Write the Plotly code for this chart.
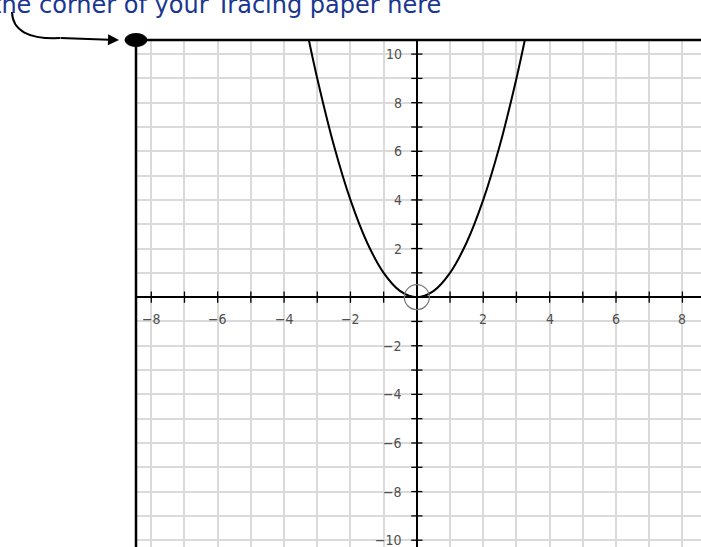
import plotly.graph_objects as go

# points of the parabola
curve_x = [-3.25, -3, -2.5, -2, -1.5, -1, -0.5, 0, 0.5, 1, 1.5, 2, 2.5, 3, 3.25]
curve_y = [10.56, 9, 6.25, 4, 2.25, 1, 0.25, 0, 0.25, 1, 2.25, 4, 6.25, 9, 10.56]

x_ticks = [-8, -7, -6, -5, -4, -3, -2, -1, 1, 2, 3, 4, 5, 6, 7, 8]
y_ticks = [-10, -9, -8, -7, -6, -5, -4, -3, -2, -1, 1, 2, 3, 4, 5, 6, 7, 8, 9, 10]
x_labels = [-8, -6, -4, -2, 2, 4, 6, 8]
y_labels = [-10, -8, -6, -4, -2, 2, 4, 6, 8, 10]

note = "the corner of your Tracing paper here"

x_range = [-8.46, 8.56]
y_range = [-10.28, 10.58]

fig = go.Figure()

fig.add_trace(go.Scatter(x=curve_x, y=curve_y, mode="lines", line=dict(color="black", width=2, shape="spline"),
                         hoverinfo="skip"))
# tick marks on the axes
fig.add_trace(go.Scatter(x=x_ticks, y=[0] * len(x_ticks), mode="markers",
                         marker=dict(symbol="line-ns", size=8, line=dict(color="black", width=1.3))))
fig.add_trace(go.Scatter(x=[0] * len(y_ticks), y=y_ticks, mode="markers",
                         marker=dict(symbol="line-ew", size=8, line=dict(color="black", width=1.3))))
# open circle at the vertex
fig.add_trace(go.Scatter(x=[0], y=[0], mode="markers",
                         marker=dict(symbol="circle-open", size=25, color="#777777",
                                     line=dict(color="#777777", width=1.2))))

lab_font = dict(family="DejaVu Sans Condensed, Liberation Sans Narrow, sans-serif", size=14, color="#505050")
for v in x_labels:
    fig.add_annotation(x=v, y=0, text=("\u2212" + str(-v)) if v < 0 else str(v), showarrow=False,
                       yanchor="middle", yshift=-22, font=lab_font)
for v in y_labels:
    fig.add_annotation(x=0, y=v, text=("\u2212" + str(-v)) if v < 0 else str(v), showarrow=False,
                       xanchor="right", xshift=-13, font=lab_font)

# border of the tracing paper corner
fig.add_shape(type="line", xref="paper", yref="paper", x0=0, y0=1, x1=1, y1=1, line=dict(color="black", width=2.5))
fig.add_shape(type="line", xref="paper", yref="paper", x0=0, y0=0, x1=0, y1=1, line=dict(color="black", width=2.5))
fig.add_shape(type="circle", xref="paper", yref="paper", xsizemode="pixel", ysizemode="pixel", xanchor=0, yanchor=1,
              x0=-11, x1=11, y0=-6.5, y1=6.5, fillcolor="black", line=dict(color="black", width=1))

# curved arrow to the corner
fig.add_shape(type="path", xref="paper", yref="paper",
              path="M -0.2195,1.0552 Q -0.218,1.0 -0.1345,1.0039", line=dict(color="black", width=2))
fig.add_annotation(xref="paper", yref="paper", x=-0.0301, y=1.0, ax=-60, ay=-2, showarrow=True,
                   arrowhead=2, arrowsize=1.1, arrowwidth=2, arrowcolor="black", text="")
fig.add_annotation(xref="paper", yref="paper", x=-0.258, y=1.0375, text=note, showarrow=False,
                   xanchor="left", yanchor="bottom",
                   font=dict(family="DejaVu Sans, sans-serif", size=24, color="#1b3690"))

fig.update_xaxes(range=x_range, dtick=1, tick0=0, showgrid=True, gridcolor="#dadada", gridwidth=2,
                 zeroline=True, zerolinecolor="black", zerolinewidth=2, showticklabels=False, ticks="")
fig.update_yaxes(range=y_range, dtick=1, tick0=0, showgrid=True, gridcolor="#dadada", gridwidth=2,
                 zeroline=True, zerolinecolor="black", zerolinewidth=2, showticklabels=False, ticks="")
fig.update_layout(width=701, height=547, margin=dict(l=136, r=0, t=40, b=0), showlegend=False,
                  plot_bgcolor="white", paper_bgcolor="white")

fig.write_html("out.html", config={"displayModeBar": False},
               post_script="document.body.style.margin='0';document.body.style.overflow='hidden';")
